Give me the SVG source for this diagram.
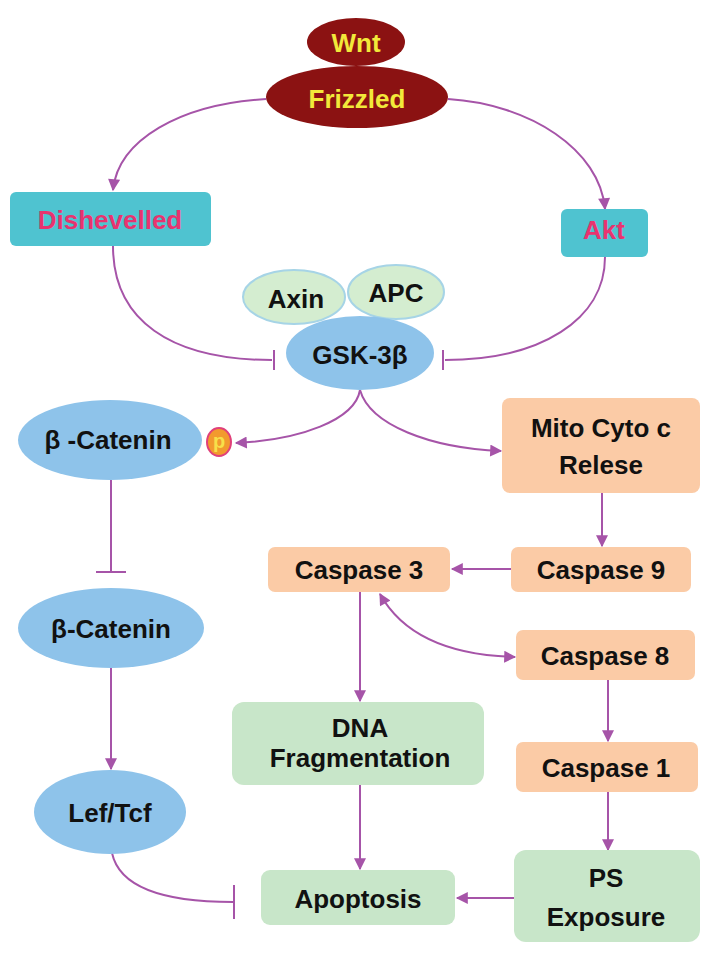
<svg xmlns="http://www.w3.org/2000/svg" width="709" height="953" viewBox="0 0 709 953">
<defs>
<marker id="ah" viewBox="0 0 10 10" refX="9" refY="5" markerWidth="14" markerHeight="12" orient="auto-start-reverse" markerUnits="userSpaceOnUse"><path d="M0,0 L10,5 L0,10 Z" fill="#A654A8"/></marker>
<style>
text{font-family:"Liberation Sans",Arial,sans-serif;font-weight:bold;font-size:26px;text-anchor:middle;dominant-baseline:central;fill:#111}
.c{fill:none;stroke:#A654A8;stroke-width:2}
.a{marker-end:url(#ah)}
.or{fill:#FBCBA6}
.gr{fill:#C8E6C9}
.bl{fill:#8EC3EA}
.cy{fill:#4FC3D0}
.lg{fill:#D4EDD0;stroke:#A6D4E6;stroke-width:2}
.dr{fill:#8B1212}
.y{fill:#F2E93A}
.pk{fill:#E8336F}
</style>
</defs>
<g id="connectors">
<path class="c a" d="M266,99 C180,104 118,140 113,190"/>
<path class="c a" d="M448,99 C530,104 600,150 605,209"/>
<path class="c" d="M113,246 C113,320 170,360 272,360"/>
<path class="c" d="M274,350 L274,370"/>
<path class="c" d="M605,257 C605,320 540,360 445,360"/>
<path class="c" d="M443,350 L443,370"/>
<path class="c a" d="M360,390 C355,420 300,440 236,443"/>
<path class="c a" d="M360,390 C370,425 430,448 501,451"/>
<path class="c a" d="M602,493 L602,546"/>
<path class="c a" d="M511,569 L452,569"/>
<path class="c" d="M111,480 L111,572"/>
<path class="c" d="M96,572 L126,572"/>
<path class="c a" d="M111,668 L111,769"/>
<path class="c" d="M112,853 C120,890 170,902 233,902"/>
<path class="c" d="M234,885 L234,919"/>
<path class="c a" d="M360,592 L360,701"/>
<path class="c a" d="M360,785 L360,869"/>
<path class="c a" style="marker-start:url(#ah)" d="M380,594 C400,630 440,655 515,657"/>
<path class="c a" d="M608,680 L608,741"/>
<path class="c a" d="M608,792 L608,850"/>
<path class="c a" d="M514,898 L457,898"/>
</g>
<g id="frizzled"><ellipse class="dr" cx="357" cy="97" rx="91" ry="31"/><text class="y" x="357" y="99">Frizzled</text></g>
<g id="wnt"><ellipse class="dr" cx="356" cy="42" rx="49" ry="24"/><text class="y" x="356" y="43">Wnt</text></g>
<g id="dishevelled"><rect class="cy" x="10" y="192" width="201" height="54" rx="6"/><text class="pk" x="110" y="220">Dishevelled</text></g>
<g id="akt"><rect class="cy" x="561" y="209" width="87" height="48" rx="6"/><text class="pk" x="604" y="230">Akt</text></g>
<g id="axin"><ellipse class="lg" cx="294" cy="297" rx="51" ry="27"/><text x="296" y="299">Axin</text></g>
<g id="apc"><ellipse class="lg" cx="396" cy="292" rx="48" ry="27"/><text x="396" y="293">APC</text></g>
<g id="gsk"><ellipse class="bl" cx="360" cy="353" rx="74" ry="37"/><text x="360" y="355">GSK-3β</text></g>
<g id="bcat1"><ellipse class="bl" cx="110" cy="440" rx="92" ry="40"/><text x="108" y="440">β -Catenin</text></g>
<g id="p"><ellipse cx="219" cy="442" rx="12" ry="14" fill="#F29A2E" stroke="#E0407A" stroke-width="2"/><text x="219" y="441" style="font-size:20px;fill:#F7E04A">p</text></g>
<g id="mito"><rect class="or" x="502" y="398" width="198" height="95" rx="8"/><text x="601" y="428">Mito Cyto c</text><text x="601" y="465">Relese</text></g>
<g id="casp9"><rect class="or" x="511" y="547" width="180" height="45" rx="7"/><text x="601" y="570">Caspase 9</text></g>
<g id="casp3"><rect class="or" x="268" y="547" width="182" height="45" rx="7"/><text x="359" y="570">Caspase 3</text></g>
<g id="bcat2"><ellipse class="bl" cx="111" cy="628" rx="93" ry="40"/><text x="111" y="629">β-Catenin</text></g>
<g id="casp8"><rect class="or" x="516" y="630" width="179" height="50" rx="7"/><text x="605" y="656">Caspase 8</text></g>
<g id="dna"><rect class="gr" x="232" y="702" width="252" height="83" rx="12"/><text x="360" y="728">DNA</text><text x="360" y="758">Fragmentation</text></g>
<g id="casp1"><rect class="or" x="516" y="742" width="182" height="50" rx="7"/><text x="606" y="768">Caspase 1</text></g>
<g id="leftcf"><ellipse class="bl" cx="110" cy="812" rx="76" ry="42"/><text x="110" y="813">Lef/Tcf</text></g>
<g id="ps"><rect class="gr" x="514" y="850" width="186" height="92" rx="12"/><text x="606" y="878">PS</text><text x="606" y="917">Exposure</text></g>
<g id="apoptosis"><rect class="gr" x="261" y="870" width="194" height="55" rx="9"/><text x="358" y="899">Apoptosis</text></g>
</svg>
